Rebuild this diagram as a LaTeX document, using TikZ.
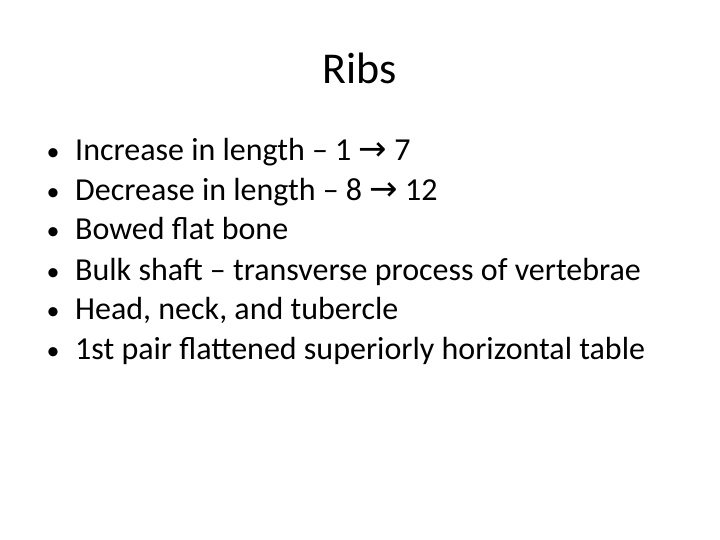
\documentclass[tikz,border=0pt]{standalone}
\usepackage{fontspec}
\setmainfont{Carlito}
\newfontfamily\arrowfont{DejaVu Sans}
\usepackage{tikz}
\usetikzlibrary{positioning}
\newcommand{\ribarrow}{{\arrowfont\fontsize{34}{36}\selectfont→}}
\begin{document}
\begin{tikzpicture}[x=1pt,y=1pt]
			\tikzset{item/.style={anchor=base west,inner sep=0pt,font=\fontsize{32}{36}\selectfont},
				dot/.style={anchor=base,inner sep=0pt,font=\fontsize{26}{28}\selectfont}}
			\useasboundingbox (0,0) rectangle (720,-540);
			\node[inner sep=0pt,font=\fontsize{44}{50}\selectfont](title) at (360,-68){Ribs};
			\node[item](l1) at (75,-161){Increase in length -- 1 \ribarrow\ 7};
			\node[item](l2) at (75,-201){Decrease in length -- 8 \ribarrow\ 12};
			\node[item](l3) at (75,-240){Bowed flat bone};
			\node[item](l4) at (75,-280){Bulk shaft -- transverse process of vertebrae};
			\node[item](l5) at (75,-319){Head, neck, and tubercle};
			\node[item](l6) at (75,-359){1st pair flattened superiorly horizontal table};
			\foreach \i/\y in {1/-161,2/-201,3/-240,4/-280,5/-319,6/-359}
				\node[dot](b\i) at (53,\y){•};
		\end{tikzpicture}
\end{document}
